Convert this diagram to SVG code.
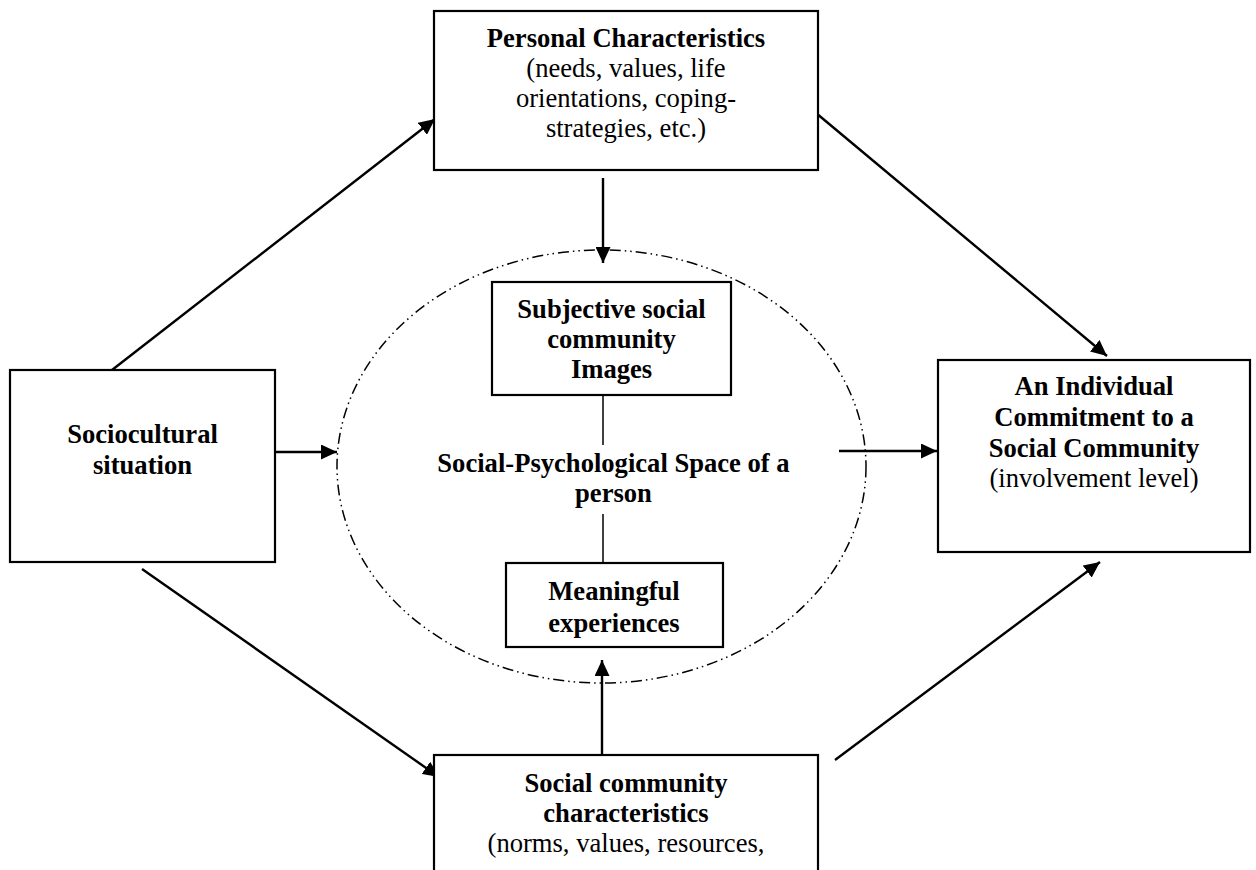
<svg xmlns="http://www.w3.org/2000/svg" width="1256" height="870" viewBox="0 0 1256 870">
<defs>
<style>
.box{fill:#fff;stroke:#000;stroke-width:2.2}
.t{font-family:"Liberation Serif","Times New Roman",serif;font-size:26.6px;fill:#000;text-anchor:middle}
.b{font-weight:bold}
.arrow{stroke:#000;stroke-width:2.4;fill:none;marker-end:url(#ah)}
.thin{stroke:#000;stroke-width:1.5;fill:none}
.space{fill:none;stroke:#000;stroke-width:1.5;stroke-dasharray:11 4 1.5 4 1.5 4}
</style>
<marker id="ah" markerUnits="userSpaceOnUse" markerWidth="17" markerHeight="15" refX="16" refY="7.5" orient="auto">
<path d="M0,0 L16,7.5 L0,15 z" fill="#000"/>
</marker>
</defs>
<rect width="1256" height="870" fill="#fff"/>
<g id="space">
<ellipse class="space" cx="601.5" cy="466.5" rx="264.5" ry="216.5"/>
<text class="t b" x="613.5" y="472">Social-Psychological Space of a</text>
<text class="t b" x="613.5" y="502">person</text>
</g>
<g id="connectors">
<line class="arrow" x1="112" y1="370" x2="435" y2="119"/>
<line class="arrow" x1="816" y1="113" x2="1107" y2="356"/>
<line class="arrow" x1="603" y1="178" x2="603" y2="263"/>
<line class="arrow" x1="265" y1="452" x2="337" y2="452"/>
<line class="arrow" x1="839" y1="451" x2="937" y2="451"/>
<line class="arrow" x1="142" y1="569" x2="439" y2="777"/>
<line class="arrow" x1="602" y1="755" x2="602" y2="660"/>
<line class="arrow" x1="835" y1="760" x2="1100" y2="562"/>
<line class="thin" x1="603" y1="395" x2="603" y2="445"/>
<line class="thin" x1="603" y1="514" x2="603" y2="563"/>
</g>
<g id="personal">
<rect class="box" x="434" y="11" width="384" height="159"/>
<text class="t b" x="626" y="46.5">Personal Characteristics</text>
<text class="t" x="626" y="77">(needs, values, life</text>
<text class="t" x="626" y="107">orientations, coping-</text>
<text class="t" x="626" y="137">strategies, etc.)</text>
</g>
<g id="sociocultural">
<rect class="box" x="10" y="370" width="265" height="192"/>
<text class="t b" x="142.5" y="443">Sociocultural</text>
<text class="t b" x="142.5" y="474">situation</text>
</g>
<g id="subjective">
<rect class="box" x="492" y="282" width="239" height="113"/>
<text class="t b" x="611.5" y="318">Subjective social</text>
<text class="t b" x="611.5" y="348">community</text>
<text class="t b" x="611.5" y="378">Images</text>
</g>
<g id="meaningful">
<rect class="box" x="506" y="563" width="217" height="84"/>
<text class="t b" x="614" y="600">Meaningful</text>
<text class="t b" x="614" y="632">experiences</text>
</g>
<g id="commitment">
<rect class="box" x="938" y="360" width="312" height="192"/>
<text class="t b" x="1094" y="395">An Individual</text>
<text class="t b" x="1094" y="426">Commitment to a</text>
<text class="t b" x="1094" y="456.5">Social Community</text>
<text class="t" x="1094" y="487">(involvement level)</text>
</g>
<g id="community">
<rect class="box" x="434" y="755" width="384" height="140"/>
<text class="t b" x="626" y="792">Social community</text>
<text class="t b" x="626" y="822">characteristics</text>
<text class="t" x="626" y="852">(norms, values, resources,</text>
</g>
</svg>
